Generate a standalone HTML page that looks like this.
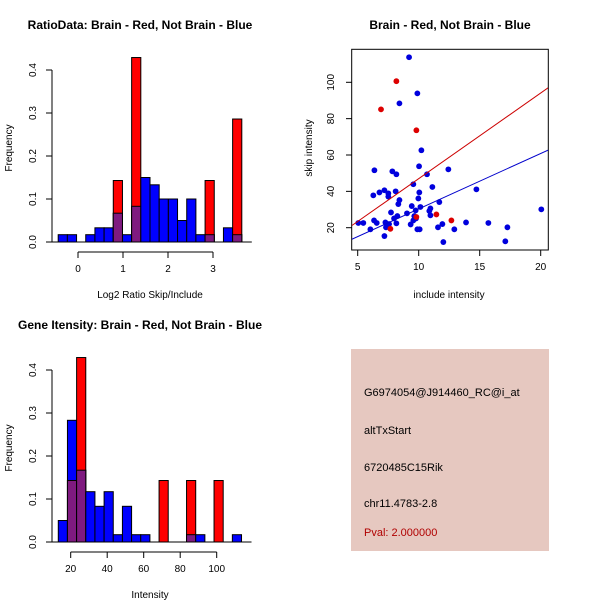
<!DOCTYPE html>
<html><head><meta charset="utf-8"><style>
body{margin:0;background:#fff;}
svg{display:block;font-family:"Liberation Sans",Arial,sans-serif;}
</style></head><body>
<svg id="s" width="600" height="600" xmlns="http://www.w3.org/2000/svg">
<text x="140" y="29" text-anchor="middle" font-size="12" font-weight="bold">RatioData: Brain - Red, Not Brain - Blue</text>
<text x="450" y="29" text-anchor="middle" font-size="12" font-weight="bold">Brain - Red, Not Brain - Blue</text>
<text x="140" y="329" text-anchor="middle" font-size="12" font-weight="bold">Gene Itensity: Brain - Red, Not Brain - Blue</text>
<text x="150" y="298" text-anchor="middle" font-size="10">Log2 Ratio Skip/Include</text>
<text x="12" y="148" text-anchor="middle" font-size="10" transform="rotate(-90 12 148)">Frequency</text>
<text x="449" y="298" text-anchor="middle" font-size="10">include intensity</text>
<text x="312" y="148" text-anchor="middle" font-size="10" transform="rotate(-90 312 148)">skip intensity</text>
<text x="150" y="598" text-anchor="middle" font-size="10">Intensity</text>
<text x="12" y="448" text-anchor="middle" font-size="10" transform="rotate(-90 12 448)">Frequency</text>
<rect x="351" y="349" width="198" height="202" fill="#e6c8c0"/>
<text x="364" y="396" font-size="11">G6974054@J914460_RC@i_at</text>
<text x="364" y="434" font-size="11">altTxStart</text>
<text x="364" y="471" font-size="11">6720485C15Rik</text>
<text x="364" y="507" font-size="11">chr11.4783-2.8</text>
<text x="364" y="536" font-size="11" fill="#b00000">Pval: 2.000000</text>
</svg>
<script>
// Ratio histogram data
const ratioBlue = [0.017,0.017,0,0.017,0.033,0.033,0.067,0.017,0.083,0.15,0.133,0.1,0.1,0.05,0.1,0.017,0.017,0,0.033,0.017];
const ratioRed  = [0,0,0,0,0,0,0.143,0,0.429,0,0,0,0,0,0,0,0.143,0,0,0.286];
const ratioXTicks = [0,1,2,3];
// Intensity histogram data
const intBlue = [0.05,0.283,0.167,0.117,0.083,0.117,0.017,0.083,0.017,0.017,0,0,0,0,0.017,0.017,0,0,0,0.017];
const intRed  = [0,0.143,0.429,0,0,0,0,0,0,0,0,0.143,0,0,0.143,0,0,0.143,0,0];
const intXTicks = [20,40,60,80,100];
const freqTicks = [0,0.1,0.2,0.3,0.4];
// Scatter data
const blueX = [9.21,9.89,8.42,10.22,6.37,7.84,8.17,10.68,12.43,10.03,9.56,11.12,14.73,6.28,6.78,7.19,7.51,7.51,8.11,10.05,9.97,8.42,8.33,9.43,10.14,11.69,10.96,10.87,9.75,7.73,9.04,10.96,9.64,8.25,7.98,9.78,9.56,6.34,6.56,7.27,8.17,7.57,9.34,7.32,5.05,5.46,6.04,9.89,10.08,11.58,11.94,12.92,13.88,15.71,17.27,17.1,12.02,7.19,20.05];
const blueY = [113.8,93.9,88.4,62.6,51.6,51,49.4,49.4,52.1,53.8,43.9,42.4,41.1,37.8,39.4,40.6,38.9,37.1,40,39.4,36.1,35.2,33,31.9,31.4,34.1,30.6,29.2,29.5,28.4,27.9,26.8,26.4,26.4,25.1,25.1,24,24,22.6,22.9,22.4,22,21.8,20.2,22.6,22.6,19.1,19.1,19.1,20.2,22,19.1,22.9,22.6,20.2,12.5,12.1,15.4,30.1];
const redX = [8.17,6.91,9.81,11.45,12.68,7.68,9.81];
const redY = [100.6,85.1,73.6,27.3,24,19.4,25.9];
const redFit = [-0.1,4.71];
const blueFit = [-0.16,3.05];
const scatXTicks = [5,10,15,20];
const scatYTicks = [20,40,60,80,100];

const NS="http://www.w3.org/2000/svg";
const svg=document.getElementById('s');
function mk(tag,attrs,parent){const e=document.createElementNS(NS,tag);for(const k in attrs)e.setAttribute(k,attrs[k]);(parent||svg).appendChild(e);return e;}

function hist(blue,red,x0,bw,xs,ys,xticks,xmin,xmax,prefix){
  const g=mk('g',{});
  
  
  for(let i=0;i<blue.length;i++){
    const a=xs(x0+bw*i),b=xs(x0+bw*(i+1));
    const bv=blue[i],rv=red[i];
    if(bv>0){const r=mk('rect',{x:a,y:ys(bv),width:b-a,height:ys(0)-ys(bv),fill:'#0000ff',stroke:'#000','stroke-width':1},g);
      
      }
    if(rv>0){const r=mk('rect',{x:a,y:ys(rv),width:b-a,height:ys(0)-ys(rv),fill:'#ff0000',stroke:'#000','stroke-width':1},g);
      
      }
    const m=Math.min(bv,rv);
    if(m>0){const r=mk('rect',{x:a,y:ys(m),width:b-a,height:ys(0)-ys(m),fill:'#7f1a80',stroke:'#000','stroke-width':1},g);
      
      }
  }
  mk('line',{x1:xs(x0)-10,x2:xs(x0+bw*blue.length)+10,y1:ys(0),y2:ys(0),stroke:'#000'},g);
  mk('line',{x1:52,x2:52,y1:ys(0),y2:ys(0.4),stroke:'#000'},g);
  freqTicks.forEach(t=>{mk('line',{x1:46,x2:52,y1:ys(t),y2:ys(t),stroke:'#000'},g);
    const tx=mk('text',{x:36,y:ys(t),'font-size':10,'text-anchor':'middle',transform:`rotate(-90 36 ${ys(t)})`},g);tx.textContent=t.toFixed(1);
    
    });
  const ay=ys(0)+10;
  mk('line',{x1:xs(xmin),x2:xs(xmax),y1:ay,y2:ay,stroke:'#000'},g);
  xticks.forEach(t=>{mk('line',{x1:xs(t),x2:xs(t),y1:ay,y2:ay+6,stroke:'#000'},g);
    const tx=mk('text',{x:xs(t),y:ay+20,'font-size':10,'text-anchor':'middle'},g);tx.textContent=t;
    
    });
}
hist(ratioBlue,ratioRed,-0.44,0.204,v=>78+45*v,v=>242-430*v,ratioXTicks,0,3,'ratio');
hist(intBlue,intRed,13.2,5.02,v=>70.7+(v-20)*1.825,v=>542-430*v,intXTicks,20,100,'intensity');

// scatter
const sx=v=>357.7+(v-5)*12.2, sy=v=>227.7-(v-20)*1.8175;
const sg=mk('g',{});


mk('rect',{x:351.7,y:49.3,width:196.6,height:200.7,fill:'none',stroke:'#000'},sg);
scatXTicks.forEach(t=>{mk('line',{x1:sx(t),x2:sx(t),y1:250,y2:256,stroke:'#000'},sg);
  const tx=mk('text',{x:sx(t),y:270,'font-size':10,'text-anchor':'middle'},sg);tx.textContent=t;
  
  });
scatYTicks.forEach(t=>{mk('line',{x1:346,x2:351.7,y1:sy(t),y2:sy(t),stroke:'#000'},sg);
  const tx=mk('text',{x:334,y:sy(t),'font-size':10,'text-anchor':'middle',transform:`rotate(-90 334 ${sy(t)})`},sg);tx.textContent=t;
  
  });
const cp=mk('clipPath',{id:'cp'});mk('rect',{x:352,y:50,width:196,height:199.5},cp);
blueX.forEach((x,i)=>{const c=mk('circle',{cx:sx(x),cy:sy(blueY[i]),r:2.9,fill:'#0000dd'},sg);
  
  });
redX.forEach((x,i)=>{const c=mk('circle',{cx:sx(x),cy:sy(redY[i]),r:2.9,fill:'#dd0000'},sg);
  
  });
[[redFit,'#cc0000','fit-line-red'],[blueFit,'#0000cc','fit-line-blue']].forEach(([f,col,n])=>{
  const x1=4.4,x2=20.7;
  const l=mk('line',{x1:sx(x1),y1:sy(f[0]+f[1]*x1),x2:sx(x2),y2:sy(f[0]+f[1]*x2),stroke:col,'clip-path':'url(#cp)'},sg);
  
  
});
</script>
</body></html>
